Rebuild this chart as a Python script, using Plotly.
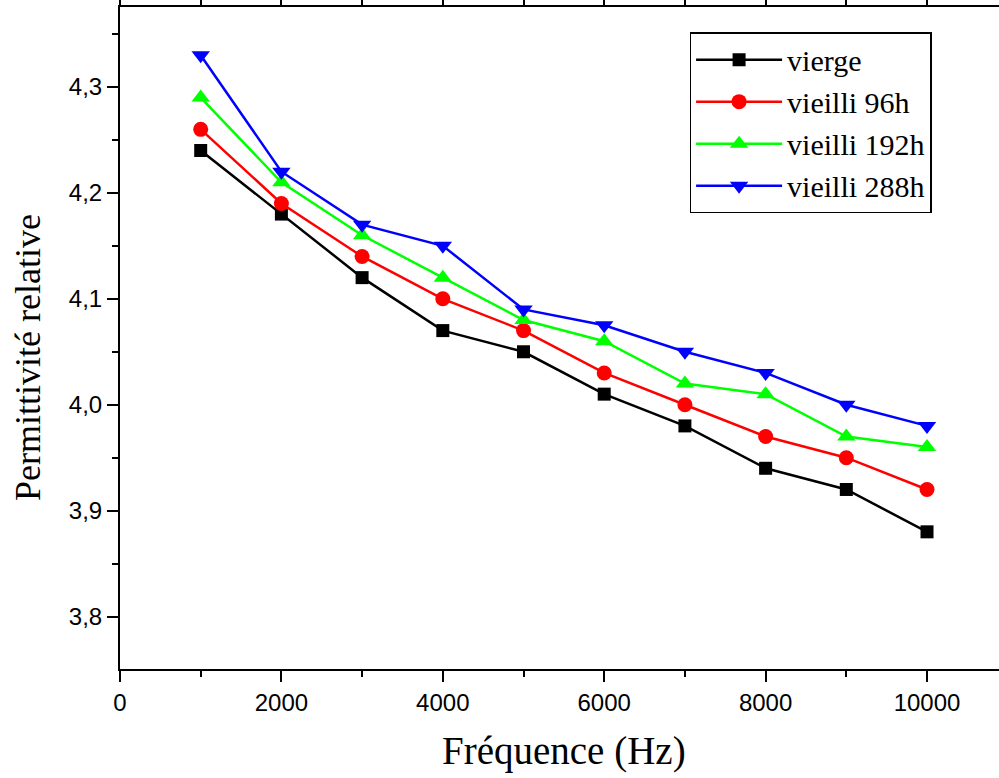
import plotly.graph_objects as go

freq = [1000, 2000, 3000, 4000, 5000, 6000, 7000, 8000, 9000, 10000]
vierge = [4.24, 4.18, 4.12, 4.07, 4.05, 4.01, 3.98, 3.94, 3.92, 3.88]
v96 = [4.26, 4.19, 4.14, 4.10, 4.07, 4.03, 4.00, 3.97, 3.95, 3.92]
v192 = [4.29, 4.21, 4.16, 4.12, 4.08, 4.06, 4.02, 4.01, 3.97, 3.96]
v288 = [4.33, 4.22, 4.17, 4.15, 4.09, 4.075, 4.05, 4.03, 4.00, 3.98]

names = ["vierge", "vieilli 96h", "vieilli 192h", "vieilli 288h"]
series = [vierge, v96, v192, v288]
colors = ["#000000", "#ff0000", "#00ff00", "#0000ff"]
symbols = ["square", "circle", "triangle-up", "triangle-down"]
sizes = [13, 15, 16, 16]

xticks = [0, 2000, 4000, 6000, 8000, 10000]
xticktext = ["0", "2000", "4000", "6000", "8000", "10000"]
yticks = [3.8, 3.9, 4.0, 4.1, 4.2, 4.3]
yticktext = ["3,8", "3,9", "4,0", "4,1", "4,2", "4,3"]

fig = go.Figure()
for n, s, c, sym, sz in zip(names, series, colors, symbols, sizes):
    fig.add_trace(go.Scatter(
        x=freq, y=s, name=n, mode="lines+markers",
        line=dict(color=c, width=2.5),
        marker=dict(symbol=sym, size=sz, color=c, line=dict(width=0)),
    ))

axis_common = dict(
    showline=True, linecolor="black", linewidth=2,
    ticks="outside", ticklen=11, tickwidth=2, tickcolor="black",
    showgrid=False, zeroline=False, automargin=False,
    tickfont=dict(family="Liberation Sans, Arial", size=24, color="black"),
)

serif = "Liberation Serif, Times New Roman"
fig.update_layout(
    width=999, height=778,
    margin=dict(l=120, r=0, t=7, b=109, pad=0, autoexpand=False),
    plot_bgcolor="white", paper_bgcolor="white",
    showlegend=True,
    legend=dict(
        x=0.648, y=0.962, xanchor="left", yanchor="top",
        bordercolor="black", borderwidth=1.5, bgcolor="white",
        font=dict(family=serif, size=30, color="black"),
        itemwidth=86, tracegroupgap=0,
    ),
    xaxis=dict(
        range=[0, 10892], tickvals=xticks, ticktext=xticktext, mirror="ticks",
        minor=dict(ticks="outside", ticklen=6, tickwidth=2, tickcolor="black", dtick=1000, tick0=0),
        **axis_common,
    ),
    yaxis=dict(
        range=[3.7505, 4.3755], tickvals=yticks, ticktext=yticktext, mirror=False,
        minor=dict(ticks="outside", ticklen=6, tickwidth=2, tickcolor="black", dtick=0.05, tick0=3.75),
        **axis_common,
    ),
    annotations=[
        dict(text="Fréquence (Hz)", xref="paper", yref="paper", x=(564 - 120) / 879, y=-(751 - 669) / 662,
             xanchor="center", yanchor="middle", showarrow=False,
             font=dict(family=serif, size=39, color="black")),
        dict(text="Permittivité relative", xref="paper", yref="paper", x=-(120 - 28) / 879, y=1 - (358 - 7) / 662,
             xanchor="center", yanchor="middle", showarrow=False, textangle=-90,
             font=dict(family=serif, size=36, color="black")),
    ],
)

fig.write_html("out.html")
